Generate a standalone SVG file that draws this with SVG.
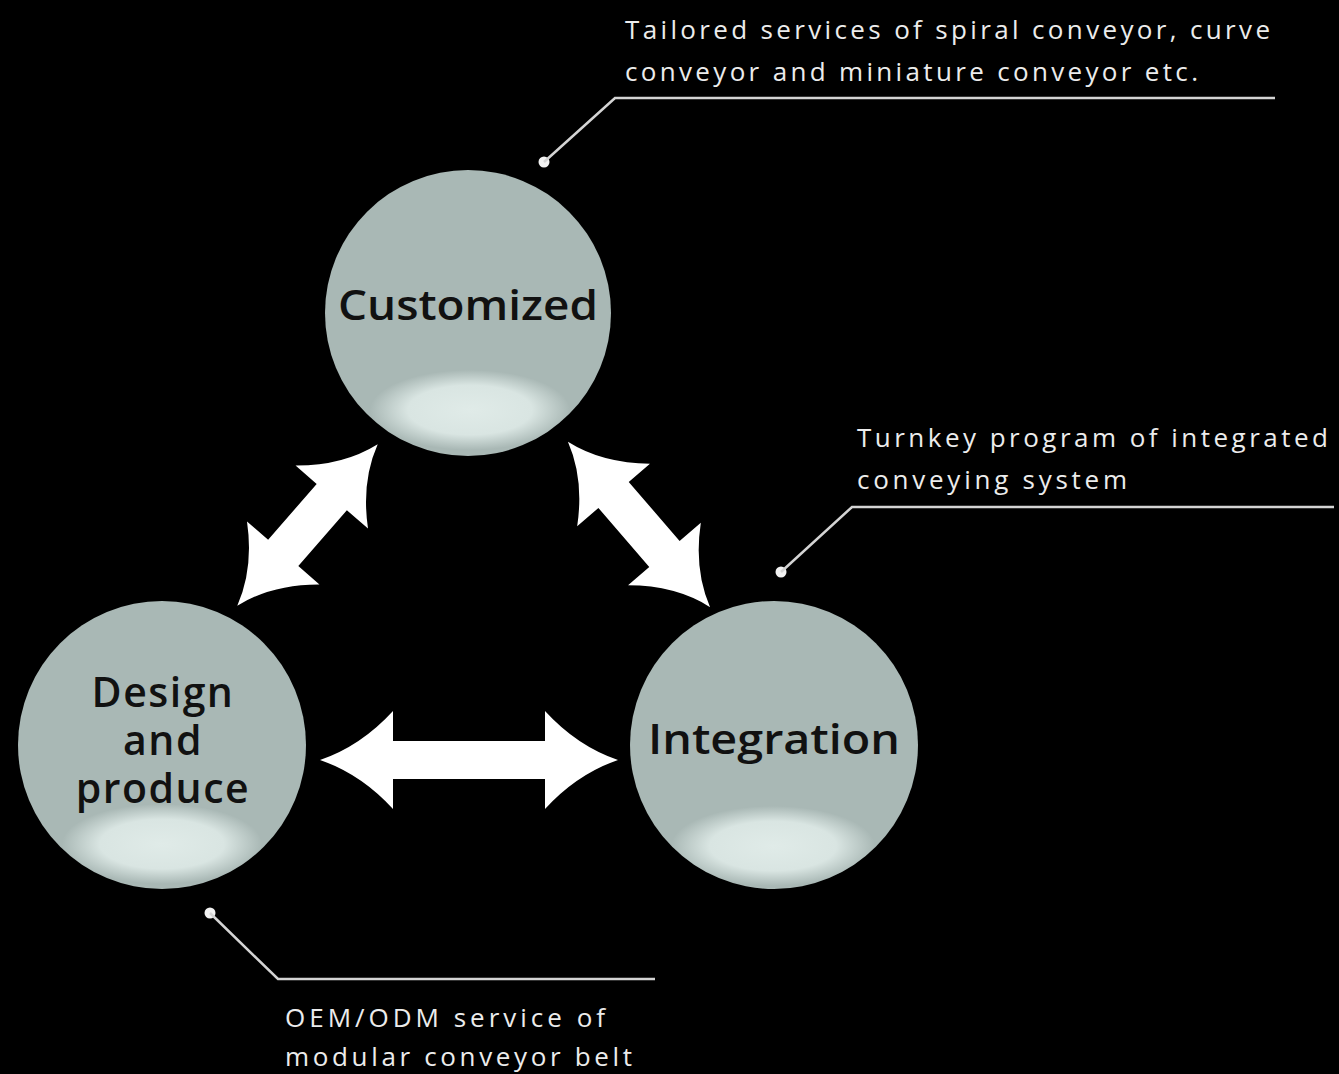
<svg xmlns="http://www.w3.org/2000/svg" width="1339" height="1074" viewBox="0 0 1339 1074">
<defs>
<radialGradient id="hl" cx="0.5" cy="0.5" r="0.5">
<stop offset="0" stop-color="#e0ebe8"/>
<stop offset="0.62" stop-color="#d9e5e2"/>
<stop offset="1" stop-color="#d9e5e2" stop-opacity="0"/>
</radialGradient>
<clipPath id="c1"><circle cx="468" cy="313" r="143"/></clipPath>
<clipPath id="c2"><circle cx="162" cy="745" r="144"/></clipPath>
<clipPath id="c3"><circle cx="774" cy="745" r="144"/></clipPath>
</defs>
<style>
.ball{fill:#a9b8b5;}
.hl{fill:url(#hl);}
.lbl{font-family:"Open Sans","DejaVu Sans",sans-serif;font-weight:600;font-size:41px;fill:#111;text-anchor:middle;}
.note{font-family:"Open Sans","DejaVu Sans",sans-serif;font-size:26px;fill:#ececec;}
.lead{fill:none;stroke:#d4d4d4;stroke-width:2.5;}
.dot{fill:#f2f2f2;}
.arr{fill:#ffffff;}
</style>
<rect width="1339" height="1074" fill="#000"/>

<g id="connectors">
<path class="arr" transform="translate(469,760)" d="M-149,0 Q-108,-14 -76,-49 L-76,-19 L76,-19 L76,-49 Q108,-14 149,0 Q108,14 76,49 L76,19 L-76,19 L-76,49 Q-108,14 -149,0 Z"/>
<path class="arr" transform="translate(307.5,525) rotate(-49)" d="M-107,0 Q-68,-12 -37,-48 L-37,-20 L37,-20 L37,-48 Q68,-12 107,0 Q68,12 37,48 L37,20 L-37,20 L-37,48 Q-68,12 -107,0 Z"/>
<path class="arr" transform="translate(639,524.5) rotate(49.3)" d="M-109,0 Q-70,-12 -39,-48 L-39,-20 L39,-20 L39,-48 Q70,-12 109,0 Q70,12 39,48 L39,20 L-39,20 L-39,48 Q-70,12 -109,0 Z"/>
</g>

<g id="node-customized">
<circle class="ball" cx="468" cy="313" r="143"/>
<ellipse class="hl" cx="470" cy="410" rx="100" ry="40" clip-path="url(#c1)"/>
<text class="lbl" x="468" y="320" textLength="260" lengthAdjust="spacingAndGlyphs">Customized</text>
</g>

<g id="node-design">
<circle class="ball" cx="162" cy="745" r="144"/>
<ellipse class="hl" cx="162" cy="844" rx="100" ry="40" clip-path="url(#c2)"/>
<text class="lbl"><tspan x="163" y="707" letter-spacing="1.5">Design</tspan><tspan x="163" y="755" letter-spacing="1.5">and</tspan><tspan x="163" y="803" letter-spacing="1.5">produce</tspan></text>
</g>

<g id="node-integration">
<circle class="ball" cx="774" cy="745" r="144"/>
<ellipse class="hl" cx="773" cy="846" rx="102" ry="40" clip-path="url(#c3)"/>
<text class="lbl" x="774" y="754" textLength="252" lengthAdjust="spacingAndGlyphs">Integration</text>
</g>

<g id="note-customized">
<circle class="dot" cx="544" cy="162" r="5.5"/>
<polyline class="lead" points="544,162 615,98 1275,98"/>
<text class="note" x="625" y="39" textLength="645" lengthAdjust="spacing">Tailored services of spiral conveyor, curve</text>
<text class="note" x="625" y="81" textLength="573" lengthAdjust="spacing">conveyor and miniature conveyor etc.</text>
</g>

<g id="note-integration">
<circle class="dot" cx="781" cy="572" r="5.5"/>
<polyline class="lead" points="781,572 852,507 1334,507"/>
<text class="note" x="857" y="447" textLength="471" lengthAdjust="spacing">Turnkey program of integrated</text>
<text class="note" x="857" y="489" textLength="270" lengthAdjust="spacing">conveying system</text>
</g>

<g id="note-design">
<circle class="dot" cx="210" cy="913" r="5.5"/>
<polyline class="lead" points="210,913 278,979 655,979"/>
<text class="note" x="285" y="1027" textLength="320" lengthAdjust="spacing">OEM/ODM service of</text>
<text class="note" x="285" y="1066" textLength="347" lengthAdjust="spacing">modular conveyor belt</text>
</g>
</svg>
